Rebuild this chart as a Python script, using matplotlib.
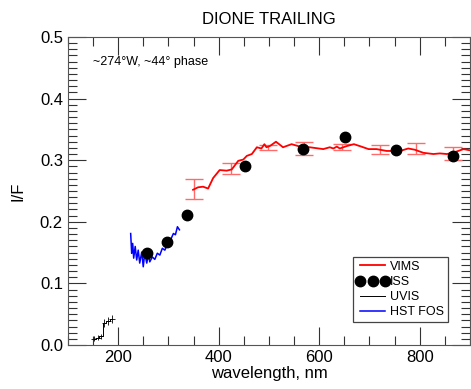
import numpy as np
import matplotlib.pyplot as plt
from matplotlib.ticker import MultipleLocator, FormatStrFormatter

plt.rcParams['font.family'] = ['Liberation Sans', 'DejaVu Sans']

## VIMS spectrum
vims_wl = [349, 359, 369, 379, 389, 402, 416, 426, 439, 449, 456, 466, 476, 485, 491,
           495, 502, 514, 528, 545, 562, 581, 608, 621, 628, 635, 641, 655, 669, 684,
           698, 714, 734, 761, 777, 790, 807, 827, 840, 854, 873, 887, 900]
vims_if = [0.252, 0.256, 0.257, 0.254, 0.271, 0.284, 0.283, 0.285, 0.299, 0.301, 0.307,
           0.310, 0.321, 0.319, 0.326, 0.321, 0.323, 0.330, 0.321, 0.326, 0.322, 0.321,
           0.318, 0.321, 0.319, 0.322, 0.319, 0.323, 0.326, 0.322, 0.318, 0.318, 0.315,
           0.315, 0.319, 0.317, 0.312, 0.310, 0.311, 0.310, 0.314, 0.318, 0.316]
# VIMS error bars
err_wl = [350, 424, 499, 570, 645, 720, 793, 867]
err_if = [0.2535, 0.286, 0.3205, 0.319, 0.3215, 0.3175, 0.319, 0.3115]
err_dy = [0.0165, 0.009, 0.004, 0.010, 0.0045, 0.0075, 0.009, 0.0105]

## ISS points
iss_wl = [258, 298, 338, 452, 568, 652, 752, 866]
iss_if = [0.150, 0.167, 0.211, 0.290, 0.318, 0.338, 0.316, 0.307]

## UVIS
uvis_wl = [152, 160, 166, 172, 180, 188]
uvis_if = [0.010, 0.012, 0.014, 0.036, 0.039, 0.042]
uvis_dx = [5, 5, 4, 4, 5, 6]
uvis_dy = [0.004, 0.004, 0.004, 0.006, 0.006, 0.006]

## HST FOS
fos_wl = [225, 227, 229, 231, 234, 237, 240, 243, 247, 250, 253, 257, 260, 263, 268,
          273, 278, 283, 288, 293, 300, 304, 310, 314, 318, 322]
fos_if = [0.181, 0.149, 0.165, 0.141, 0.160, 0.138, 0.154, 0.133, 0.151, 0.127, 0.149,
          0.133, 0.146, 0.135, 0.143, 0.139, 0.149, 0.146, 0.157, 0.154, 0.168, 0.170,
          0.181, 0.179, 0.192, 0.187]

fig = plt.figure(figsize=(4.71, 3.89), dpi=100)
ax = fig.add_axes([0.144, 0.113, 0.854, 0.792])

ax.errorbar(err_wl, err_if, yerr=err_dy, fmt='none', ecolor='#ff6b6b',
            elinewidth=1.0, capsize=6.5, capthick=1.0, zorder=2)
ax.plot(vims_wl, vims_if, color='red', lw=1.3, label='VIMS', zorder=3)
ax.plot(iss_wl, iss_if, 'o', color='black', ms=7.5, label='ISS', zorder=4)
ax.errorbar(uvis_wl, uvis_if, xerr=uvis_dx, yerr=uvis_dy, fmt='none', ecolor='black',
            elinewidth=0.6, zorder=2)
ax.plot(uvis_wl, uvis_if, color='black', lw=0.7, drawstyle='steps-mid', label='UVIS', zorder=2)
ax.plot(fos_wl, fos_if, color='blue', lw=1.1, label='HST FOS', zorder=3)

ax.set_xlim(100, 900)
ax.set_ylim(0, 0.5)
ax.xaxis.set_major_locator(MultipleLocator(200))
ax.xaxis.set_minor_locator(MultipleLocator(50))
ax.yaxis.set_major_locator(MultipleLocator(0.1))
ax.yaxis.set_minor_locator(MultipleLocator(0.01))
ax.yaxis.set_major_formatter(FormatStrFormatter('%.1f'))
ax.tick_params(which='both', direction='in', top=True, right=True, colors='#333333',
               labelcolor='black', labelsize=12)
ax.tick_params(which='major', length=13, width=0.8)
ax.tick_params(which='minor', length=6.5, width=0.8)
for s in ax.spines.values():
    s.set_color('#555555')
    s.set_linewidth(0.8)

ax.set_title('DIONE TRAILING', fontsize=12, pad=9)
ax.set_xlabel('wavelength, nm', fontsize=12, labelpad=1)
ax.set_ylabel('I/F', fontsize=12, labelpad=10)
ax.text(150, 0.459, '~274°W, ~44° phase', fontsize=9, va='center')

leg = ax.legend(loc='lower right', bbox_to_anchor=(0.945, 0.075), borderaxespad=0,
                numpoints=3, fontsize=9, fancybox=False, edgecolor='#444444',
                framealpha=1, handlelength=2.6, handletextpad=0.1,
                labelspacing=0.25, borderpad=0.3)
leg.get_frame().set_linewidth(0.9)

fig.savefig('out.png', dpi=100)
